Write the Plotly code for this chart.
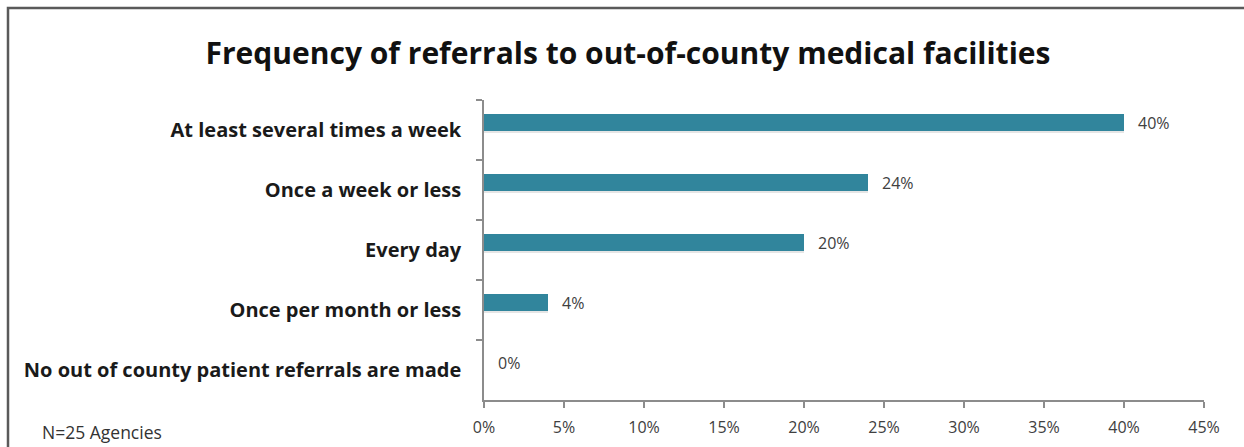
import plotly.graph_objects as go

# Survey results
categories = [
    "At least several times a week",
    "Once a week or less",
    "Every day",
    "Once per month or less",
    "No out of county patient referrals are made",
]
shares = [0.40, 0.24, 0.20, 0.04, 0.00]
x_ticks = [0.0, 0.05, 0.10, 0.15, 0.20, 0.25, 0.30, 0.35, 0.40, 0.45]

title_text = "Frequency of referrals to out-of-county medical facilities"
note_text = "N=25 Agencies"

W, H = 1244, 447
L, R, T, B = 484, 40, 100, 47
plot_w, plot_h = W - L - R, H - T - B

FONT = "Open Sans"
BAR_COLOR = "#31859c"
AXIS_COLOR = "#8c8c8c"
BAR_W = 0.28
BAR_OFF = -0.265

fig = go.Figure()

# soft drop shadow under each bar
fig.add_trace(go.Bar(
    x=shares, y=categories, orientation="h",
    width=BAR_W, offset=BAR_OFF + 0.035,
    marker=dict(color="rgba(0,0,0,0.10)", line=dict(width=0)),
    hoverinfo="skip", showlegend=False,
))

fig.add_trace(go.Bar(
    x=shares, y=categories, orientation="h",
    width=BAR_W, offset=BAR_OFF,
    marker=dict(color=BAR_COLOR, line=dict(width=0)),
    showlegend=False,
))

# value labels to the right of each bar
for cat, v in zip(categories, shares):
    fig.add_annotation(
        x=v, y=cat, xref="x", yref="y",
        text=f"{v:.0%}", showarrow=False,
        xanchor="left", yanchor="middle",
        xshift=12, yshift=7,
        font=dict(family=FONT, size=16, color="#404040"),
    )

fig.add_annotation(
    x=(40 - L) / plot_w, y=-(432 - (T + plot_h)) / plot_h,
    xref="paper", yref="paper", text=note_text, showarrow=False,
    xanchor="left", yanchor="middle",
    font=dict(family=FONT, size=17.5, color="#333333"),
)

# frame around the chart (left and top edges)
px = lambda p: (p - L) / plot_w
py = lambda p: (T + plot_h - p) / plot_h
fig.add_shape(
    type="path", xref="paper", yref="paper",
    path=f"M {px(8)} {py(H + 5)} L {px(8)} {py(8)} L {px(W + 5)} {py(8)}",
    line=dict(color="#5a5a5a", width=2.5),
)

fig.update_layout(
    width=W, height=H,
    margin=dict(l=L, r=R, t=T, b=B, autoexpand=False),
    paper_bgcolor="white", plot_bgcolor="white",
    title=dict(
        text=f"<b>{title_text}</b>",
        x=628 / W, xref="container", xanchor="center",
        y=1 - 53 / H, yref="container", yanchor="middle",
        font=dict(family=FONT, size=30, color="#111111"),
    ),
    bargap=0,
    xaxis=dict(
        range=[0, 0.45], tickvals=x_ticks, tickformat=".0%",
        automargin=False,
        showgrid=False, zeroline=False,
        showline=True, linecolor=AXIS_COLOR, linewidth=1.5,
        ticks="outside", ticklen=6, tickcolor=AXIS_COLOR, tickwidth=1.5,
        tickfont=dict(family=FONT, size=16, color="#404040"),
        ticklabelstandoff=6,
    ),
    yaxis=dict(
        type="category", categoryorder="array", categoryarray=categories,
        range=[len(categories) - 0.5, -0.5],
        automargin=False,
        showgrid=False, zeroline=False,
        showline=True, linecolor=AXIS_COLOR, linewidth=1.5,
        ticks="outside", ticklen=6, tickcolor=AXIS_COLOR, tickwidth=1.5,
        tickson="boundaries",
        tickfont=dict(family=FONT, size=20, color="#1a1a1a", weight="bold"),
        ticklabelstandoff=17,
    ),
)

fig.write_html("out.html")
